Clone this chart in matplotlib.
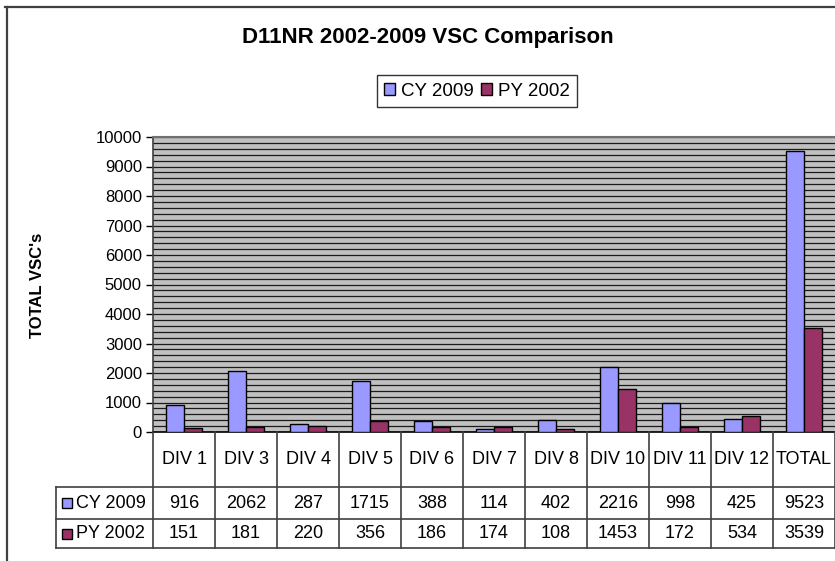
import matplotlib
matplotlib.use("Agg")
import matplotlib.pyplot as plt
import matplotlib.transforms as mtransforms
from matplotlib.lines import Line2D
from matplotlib.patches import Patch, Rectangle
import numpy as np

divisions = ['DIV 1', 'DIV 3', 'DIV 4', 'DIV 5', 'DIV 6', 'DIV 7', 'DIV 8',
             'DIV 10', 'DIV 11', 'DIV 12', 'TOTAL']
cy2009 = [916, 2062, 287, 1715, 388, 114, 402, 2216, 998, 425, 9523]
py2002 = [151, 181, 220, 356, 186, 174, 108, 1453, 172, 534, 3539]
series_names = ['CY 2009', 'PY 2002']

blue = '#9999FF'
maroon = '#993366'
line_col = '#404040'

plt.rcParams['font.family'] = ['Liberation Sans', 'DejaVu Sans']

W, H = 835, 561
fig = plt.figure(figsize=(W / 100, H / 100), dpi=100)


def fx(x):
    return x / W


def fy(y):
    return 1 - y / H


# outer chart frame (only top and left edges visible)
fig.add_artist(Line2D([fx(5), fx(835)], [fy(7), fy(7)], color=line_col, lw=1.6))
fig.add_artist(Line2D([fx(7), fx(7)], [fy(7), fy(561)], color=line_col, lw=1.6))

ax = fig.add_axes([fx(153), fy(432), fx(835) - fx(153), fy(137) - fy(432)])
ax.set_facecolor('#C0C0C0')

x = np.arange(len(divisions))
bw = 0.29
ax.bar(x - bw / 2, cy2009, bw, color=blue, edgecolor='black', linewidth=1.0, zorder=3)
ax.bar(x + bw / 2, py2002, bw, color=maroon, edgecolor='black', linewidth=1.0, zorder=3)

ax.set_xlim(-0.5, len(divisions) - 0.5)
ax.set_ylim(0, 10000)
ax.set_yticks(np.arange(0, 10001, 1000))
ax.set_yticks(np.arange(0, 10001, 200), minor=True)
ax.tick_params(axis='y', which='major', direction='out', length=5, width=1,
               labelsize=12, colors='black', pad=3)
ax.tick_params(axis='y', which='minor', length=0)
ax.set_xticks([])
ax.grid(axis='y', which='both', color='#1a1a1a', linewidth=0.9, zorder=1)
ax.set_axisbelow(True)

ax.spines['right'].set_visible(False)
ax.spines['top'].set_color('#707070')
ax.spines['top'].set_linewidth(1.5)
ax.spines['left'].set_color(line_col)
ax.spines['left'].set_linewidth(1.2)
ax.spines['bottom'].set_color('black')
ax.spines['bottom'].set_linewidth(1.2)

fig.text(fx(38), fy(285), "TOTAL VSC's", rotation=90, ha='center', va='center',
         fontsize=12, fontweight='bold')
fig.text(fx(428), fy(38), 'D11NR 2002-2009 VSC Comparison', ha='center', va='center',
         fontsize=16, fontweight='bold')

handles = [Patch(facecolor=blue, edgecolor='black'), Patch(facecolor=maroon, edgecolor='black')]
leg = fig.legend(handles, series_names, loc='center', bbox_to_anchor=(fx(477), fy(91)),
                 ncol=2, frameon=True, fancybox=False, fontsize=13.5,
                 handlelength=0.6, handleheight=0.6, handletextpad=0.3,
                 columnspacing=0.4, borderpad=0.4, borderaxespad=0)
leg.get_frame().set_edgecolor('black')
leg.get_frame().set_linewidth(1.0)

# data table under the plot
tr = mtransforms.blended_transform_factory(ax.transData, fig.transFigure)
row_top, row_mid, row_bot = 487, 519, 548
for b in np.arange(len(divisions) + 1) - 0.5:
    fig.add_artist(Line2D([b, b], [fy(432), fy(row_bot)], transform=tr,
                          color=line_col, lw=1.2))
for yy in (row_top, row_mid, row_bot):
    fig.add_artist(Line2D([fx(56), fx(835)], [fy(yy), fy(yy)], color=line_col, lw=1.2))
fig.add_artist(Line2D([fx(56), fx(56)], [fy(row_top), fy(row_bot)], color=line_col, lw=1.2))

for i, name in enumerate(divisions):
    fig.text(i, fy(459), name, transform=tr, ha='center', va='center', fontsize=13)
    fig.text(i, fy(503), str(cy2009[i]), transform=tr, ha='center', va='center', fontsize=13)
    fig.text(i, fy(534), str(py2002[i]), transform=tr, ha='center', va='center', fontsize=13)

for yy, col, name in ((503, blue, series_names[0]), (534, maroon, series_names[1])):
    fig.add_artist(Rectangle((fx(62), fy(yy + 5)), fx(10), fy(0) - fy(10),
                             facecolor=col, edgecolor='black', lw=1.0))
    fig.text(fx(76), fy(yy), name, ha='left', va='center', fontsize=13)

fig.savefig('out.png', dpi=100, facecolor='white')
